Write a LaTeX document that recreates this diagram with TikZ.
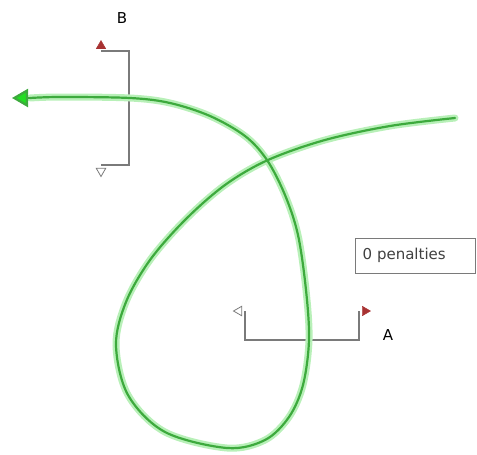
\documentclass[tikz,border=0pt]{standalone}
\usepackage{fontspec}
\setmainfont{DejaVu Sans}
\usetikzlibrary{arrows.meta,shapes.geometric}
\definecolor{gatepole}{HTML}{7A7A7A}
\definecolor{flagred}{HTML}{A83232}
\definecolor{pathgreen}{HTML}{3DAA3D}
\definecolor{glowgreen}{HTML}{B8F0B8}
\definecolor{tipgreen}{HTML}{22DD22}

\begin{document}
\begin{tikzpicture}[
  x=1pt,y=-1pt,
  font=\fontsize{15}{17}\selectfont,
  pole/.style={draw=gatepole,line width=1.6pt},
  flag/.style={regular polygon,regular polygon sides=3,draw=flagred,
    fill=flagred,inner sep=0pt,minimum size=11pt},
  blank/.style={flag,draw=gatepole,fill=white,line width=0.8pt},
  glow/.style={draw=glowgreen,line width=7pt,line cap=round},
  track/.style={draw=pathgreen,line width=2.2pt,line cap=round},
  counter/.style={draw=gatepole,line width=1pt,inner xsep=7pt,
    text width=106pt,minimum height=35pt,align=left,text=black!75}
]
\useasboundingbox (0,0) rectangle (477,455);

% gate B
\coordinate (b1) at (101,51);
\coordinate (b2) at (129,51);
\coordinate (b3) at (129,165);
\coordinate (b4) at (101,165);
\node[flag,shape border rotate=0] (bred) at (101,46) {};
\node[blank,shape border rotate=180] (bwhite) at (101,171) {};
\node (blabel) at (122,18) {B};
\draw[pole] (b1) -- (b2) -- (b3) -- (b4);

% gate A
\coordinate (a1) at (245,311);
\coordinate (a2) at (245,340);
\coordinate (a3) at (359,340);
\coordinate (a4) at (359,311);
\node[blank,shape border rotate=90] (awhite) at (239,311) {};
\node[flag,shape border rotate=-90] (ared) at (365,311) {};
\node (alabel) at (388,335) {A};
\draw[pole] (a1) -- (a2) -- (a3) -- (a4);

\node[counter] (penalties) at (415.5,255.5) {0 penalties};

% the run, with its glow
\coordinate (start) at (455,118);
\coordinate (finish) at (12,98);
\foreach \s in {glow,track}
  \draw[\s] plot[smooth,tension=0.55] coordinates {
    (start) (390,126) (325,140) (268,160) (225,185) (185,220)
    (150,260) (126,302) (116,345) (128,395) (165,432) (227,448)
    (265,440) (289,417) (303,385) (309,340) (306,290) (298,235)
    (285,195) (267,160) (245,136) (210,116) (170,103) (130,98)
    (60,97) (30,98)};
\draw[track,-{Triangle[length=16pt,width=18pt,fill=tipgreen]}]
  (30,98) -- (finish);
\end{tikzpicture}
\end{document}
